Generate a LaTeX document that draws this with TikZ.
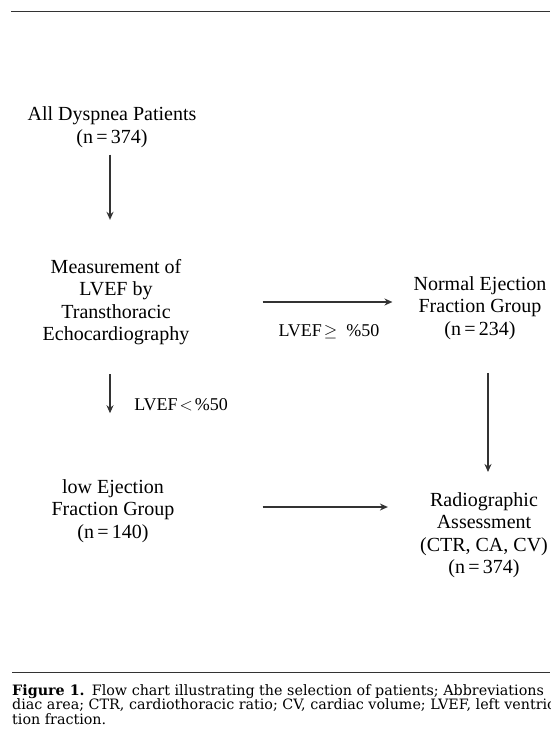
\documentclass[tikz,border=0pt]{standalone}
\usepackage{fontspec}
\setmainfont{Liberation Serif}
\newfontfamily\capfont{DejaVu Serif}
\usetikzlibrary{arrows.meta}
\begin{document}
\begin{tikzpicture}[x=1pt,y=-1pt,
    box/.style={align=center,inner sep=0pt,font=\fontsize{20}{22.5}\selectfont},
    lbl/.style={inner sep=0pt,font=\fontsize{18}{22}\selectfont},
    captxt/.style={anchor=base west,inner sep=0pt,font=\capfont\fontsize{14.3}{14.5}\selectfont},
    arr/.style={draw=black!80,line width=1.4pt,-{Stealth[length=8pt,width=7pt]}},
    rule/.style={draw=black!80,line width=0.9pt}]
        \useasboundingbox (0,0) rectangle (550,742);
        \clip (0,0) rectangle (550,742);
        \draw[rule] (11,11) -- (550,11);
        \draw[rule] (12,672) -- (550,672);
        % columns and rows the arrows run on
        \coordinate (colL) at (110,0);
        \coordinate (colR) at (488,0);
        \coordinate (rowLow) at (0,507);
        % left column
        \node[box] (all) at (112,127) {All Dyspnea Patients\\(n\,=\,374)};
        \node[box] (meas) at (116,302) {Measurement of\\LVEF by\\Transthoracic\\Echocardiography};
        \node[box] (low) at (113,511) {low Ejection\\Fraction Group\\(n\,=\,140)};
        % right column
        \node[box] (normal) at (480,308) {Normal Ejection\\Fraction Group\\(n\,=\,234)};
        \node[box] (radio) at (484,535) {Radiographic\\Assessment\\(CTR, CA, CV)\\(n\,=\,374)};
        % labels
        \node[lbl] (ge) at (329,332) {LVEF\hspace{2pt}$\geq$\hspace{9pt}\%50};
        \node[lbl] (lt) at (181,405) {LVEF\hspace{2pt}$<$\hspace{2pt}\%50};
        % arrows
        \draw[arr,shorten <=7pt,shorten >=39pt] (all.south -| colL) -- (meas.north -| colL);
        \draw[arr,shorten <=29pt,shorten >=66pt] (meas.south -| colL) -- (low.north -| colL);
        \draw[arr,shorten <=73pt,shorten >=21pt] (meas.east) -- (normal.west |- meas.east);
        \draw[arr,shorten <=33pt,shorten >=20pt] (normal.south -| colR) -- (radio.north -| colR);
        \draw[arr,shorten <=88pt,shorten >=32pt] (low.east |- rowLow) -- (radio.west |- rowLow);
        % caption
        \node[captxt] (cap1) at (12,695) {\textbf{Figure 1.}\enspace Flow chart illustrating the selection of patients; Abbreviations};
        \node[captxt] (cap2) at (12,709.5) {diac area; CTR, cardiothoracic ratio; CV, cardiac volume; LVEF, left ventricu};
        \node[captxt] (cap3) at (12,724) {tion fraction.};
\end{tikzpicture}
\end{document}
